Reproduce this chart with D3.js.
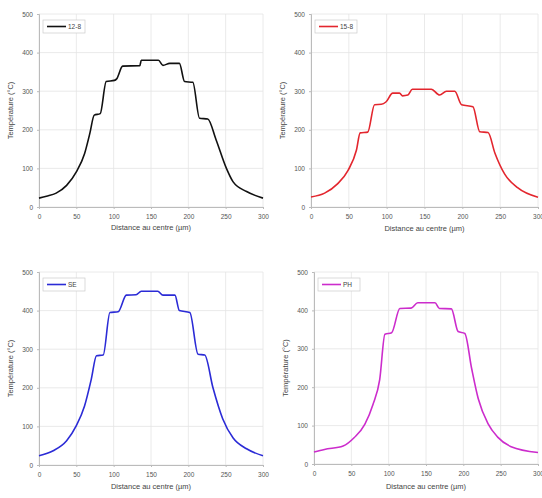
<!DOCTYPE html>
<html><head><meta charset="utf-8">
<script src="https://cdn.jsdelivr.net/npm/d3@7"></script>
<style>body{margin:0;background:#fff}svg{display:block}text{font-family:"Liberation Sans",Arial,sans-serif}</style>
</head><body>
<svg id="c" width="542" height="498"></svg>
<script>
// ---- data ----
const xTicks = [0, 50, 100, 150, 200, 250, 300];
const yTicks = [0, 100, 200, 300, 400, 500];
const seriesNames = ["12-8", "15-8", "SE", "PH"];

const dist12_8 = [0, 10, 23, 37, 50, 61, 68, 74, 82, 90, 101, 104, 112, 135, 137, 160, 166, 175, 188, 195, 206, 215, 226, 237, 251, 260, 278, 300];
const temp12_8 = [23, 28, 36, 56, 91, 138, 190, 238, 242, 325, 328, 332, 365, 366, 380, 380, 367, 372, 372, 325, 323, 230, 228, 175, 100, 65, 40, 23];

const dist15_8 = [0, 18, 35, 49, 60, 65, 75, 84, 93, 99, 108, 117, 121, 128, 134, 159, 170, 179, 190, 199, 214, 223, 234, 243, 256, 273, 300];
const temp15_8 = [26, 36, 60, 95, 147, 192, 194, 265, 266, 272, 295, 295, 288, 290, 305, 305, 290, 300, 300, 265, 260, 195, 193, 140, 85, 50, 25];

const distSE = [0, 19, 37, 50, 61, 70, 77, 86, 95, 106, 117, 130, 137, 159, 166, 182, 188, 202, 213, 222, 233, 246, 260, 278, 300];
const tempSE = [24, 37, 63, 102, 153, 222, 283, 285, 395, 397, 440, 441, 450, 450, 440, 440, 400, 395, 287, 285, 200, 120, 70, 42, 24];

const distPH = [0, 14, 39, 54, 68, 79, 88, 95, 104, 115, 130, 139, 162, 168, 184, 193, 202, 211, 220, 233, 246, 264, 300];
const tempPH = [31, 38, 47, 69, 103, 155, 220, 338, 342, 405, 406, 420, 420, 405, 404, 345, 340, 250, 170, 105, 70, 45, 30];

// ---- layout (positions and styles only) ----
const panels = [
  {name: seriesNames[0], xs: dist12_8, ys: temp12_8, color: "#111111", left: 39, right: 263, top: 14, bottom: 207, xTitleY: 230},
  {name: seriesNames[1], xs: dist15_8, ys: temp15_8, color: "#e3262e", left: 311, right: 538, top: 14, bottom: 207, xTitleY: 231},
  {name: seriesNames[2], xs: distSE, ys: tempSE, color: "#2b2bd6", left: 39, right: 263, top: 272, bottom: 465, xTitleY: 489},
  {name: seriesNames[3], xs: distPH, ys: tempPH, color: "#cc2ccc", left: 314, right: 538, top: 272, bottom: 464, xTitleY: 489}
];

const svg = d3.select("#c");

panels.forEach(p => {
  const x = d3.scaleLinear().domain([0, 300]).range([p.left, p.right]);
  const y = d3.scaleLinear().domain([0, 500]).range([p.bottom, p.top]);
  const g = svg.append("g");

  // grid
  g.selectAll(".vg").data(xTicks).join("line")
    .attr("x1", d => x(d)).attr("x2", d => x(d))
    .attr("y1", p.top).attr("y2", p.bottom)
    .attr("stroke", "#e4e4e4").attr("stroke-width", 0.8);
  g.selectAll(".hg").data(yTicks).join("line")
    .attr("x1", p.left).attr("x2", p.right)
    .attr("y1", d => y(d)).attr("y2", d => y(d))
    .attr("stroke", "#e4e4e4").attr("stroke-width", 0.8);

  // axes
  const xa = g.append("g").attr("transform", `translate(0,${p.bottom})`)
    .call(d3.axisBottom(x).tickValues(xTicks).tickSize(2).tickPadding(5));
  const ya = g.append("g").attr("transform", `translate(${p.left},0)`)
    .call(d3.axisLeft(y).tickValues(yTicks).tickSize(2).tickPadding(4));
  [xa, ya].forEach(a => {
    a.select(".domain").attr("stroke", "#bbb");
    a.selectAll(".tick line").attr("stroke", "#bbb");
    a.selectAll(".tick text").attr("fill", "#555").style("font-size", "6.5px");
  });

  // titles
  g.append("text").attr("x", (p.left + p.right) / 2).attr("y", p.xTitleY)
    .attr("text-anchor", "middle").attr("fill", "#444").style("font-size", "7.5px")
    .text("Distance au centre (µm)");
  g.append("text")
    .attr("transform", `translate(${p.left - 26},${(p.top + p.bottom) / 2}) rotate(-90)`)
    .attr("text-anchor", "middle").attr("fill", "#444").style("font-size", "7.5px")
    .text("Température (°C)");

  // curve
  const pts = p.xs.map((d, i) => [d, p.ys[i]]);
  g.append("path").datum(pts)
    .attr("fill", "none").attr("stroke", p.color).attr("stroke-width", 1.6)
    .attr("stroke-linejoin", "round")
    .attr("d", d3.line().x(d => x(d[0])).y(d => y(d[1])).curve(d3.curveMonotoneX));

  // legend
  const lx = p.left + 4, ly = p.top + 6;
  g.append("rect").attr("x", lx).attr("y", ly).attr("width", 42).attr("height", 13)
    .attr("fill", "#fff").attr("stroke", "#ccc").attr("stroke-width", 0.7);
  g.append("line").attr("x1", lx + 4).attr("x2", lx + 23).attr("y1", ly + 6.5).attr("y2", ly + 6.5)
    .attr("stroke", p.color).attr("stroke-width", 1.6);
  g.append("text").attr("x", lx + 25).attr("y", ly + 9).attr("fill", "#444").style("font-size", "6.5px")
    .text(p.name);
});
</script>
</body></html>
